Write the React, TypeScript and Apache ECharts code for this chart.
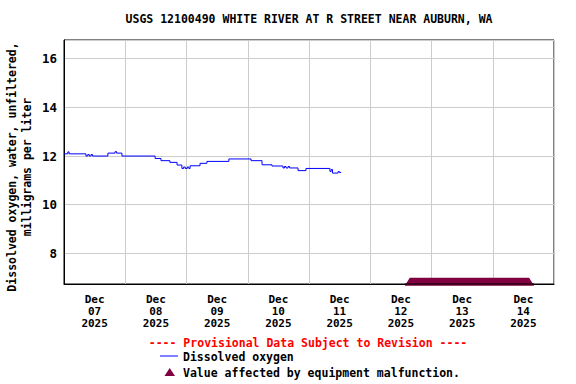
import React, { useEffect, useRef } from 'react';
import * as echarts from 'echarts';

const TITLE = 'USGS 12100490 WHITE RIVER AT R STREET NEAR AUBURN, WA';
const Y_NAME = 'Dissolved oxygen, water, unfiltered,\nmilligrams per liter';
const MONTH = 'Dec';
const YEAR = '2025';
const DAY_LABELS = ['07', '08', '09', '10', '11', '12', '13', '14'];
const X_MIN_H = 0;
const X_MAX_H = 192;
const Y_MIN = 6.74;
const Y_MAX = 16.77;
const PROVISIONAL = '---- Provisional Data Subject to Revision ----';
const LEGEND_LINE = 'Dissolved oxygen';
const LEGEND_MARK = 'Value affected by equipment malfunction.';

// hours since Dec 07 2025 00:00
const DO_HOURS = [
  0, 1.5, 2.0, 8.6, 9.3, 9.9, 10.6, 11.2, 17.2, 20.0, 20.6, 22.7, 35.7, 38.0,
  41.5, 44.3, 46.2, 46.9, 47.5, 48.3, 48.9, 49.4, 53.3, 56.0, 64.6, 73.3, 77.6,
  81.5, 85.8, 86.4, 87.0, 87.8, 88.4, 91.7, 94.8, 104.2, 104.7, 105.2, 107.4,
  108.0, 108.6,
];
const DO_VALUES = [
  12.09, 12.17, 12.09, 12.0, 12.06, 12.0, 12.06, 12.0, 12.12, 12.18, 12.12, 12.0,
  11.9, 11.81, 11.74, 11.63, 11.49, 11.55, 11.49, 11.55, 11.49, 11.6, 11.7,
  11.78, 11.88, 11.81, 11.64, 11.59, 11.51, 11.57, 11.51, 11.57, 11.51, 11.4,
  11.49, 11.37, 11.45, 11.3, 11.36, 11.32, 11.32,
];
// malfunction period [start hour, end hour]
const MALFUNCTION_START = [135.5];
const MALFUNCTION_END = [182.25];

const FONT = 'DejaVu Sans Mono';
const MAROON = '#800040';

export default function App() {
  const ref = useRef<HTMLDivElement>(null);
  useEffect(() => {
    if (!ref.current) return;
    const chart = echarts.init(ref.current, undefined, { renderer: 'svg' });
    const lineData = DO_HOURS.map((h, i) => [h, DO_VALUES[i]]);
    const malData = MALFUNCTION_START.map((s, i) => [s, MALFUNCTION_END[i], Y_MIN]);
    const txt = { fontFamily: FONT, fontWeight: 'bold' as const, fontSize: 11.5 };
    chart.setOption({
      animation: false,
      backgroundColor: '#ffffff',
      grid: {
        left: 64, right: 22, top: 40, bottom: 100, containLabel: false, outerBoundsMode: 'none',
        show: true, borderColor: '#000', borderWidth: 1, backgroundColor: 'transparent',
      },
      xAxis: [
        {
          type: 'value', min: X_MIN_H, max: X_MAX_H, interval: 24, position: 'bottom',
          axisLine: { show: true, lineStyle: { color: '#000' } },
          axisTick: { show: false },
          axisLabel: { show: false },
          splitLine: { show: true, lineStyle: { color: '#cccccc', width: 1 } },
        },
        {
          type: 'value', min: X_MIN_H, max: X_MAX_H, interval: 12, position: 'bottom',
          axisLine: { show: false }, axisTick: { show: false }, splitLine: { show: false },
          axisLabel: {
            ...txt, fontSize: 11, color: '#000', margin: 9, lineHeight: 12,
            showMinLabel: false, showMaxLabel: false,
            formatter: (v: number) => {
              if (Math.abs((v % 24) - 12) > 1e-6) return '';
              const d = DAY_LABELS[Math.floor(v / 24)];
              return d ? `${MONTH}\n${d}\n${YEAR}` : '';
            },
          },
        },
      ],
      yAxis: {
        type: 'value', min: Y_MIN, max: Y_MAX, splitNumber: 5,
        axisLine: { show: true, lineStyle: { color: '#000' } },
        axisTick: { show: false },
        splitLine: { show: true, lineStyle: { color: '#cccccc', width: 1 } },
        axisLabel: {
          ...txt, fontSize: 12.5, color: '#000', margin: 7,
          showMinLabel: false, showMaxLabel: false,
          formatter: (v: number) => (Math.abs(v - Math.round(v)) < 1e-6 ? String(Math.round(v)) : ''),
        },
      },
      series: [
        {
          type: 'line', xAxisIndex: 0, data: lineData, step: 'end', showSymbol: false,
          lineStyle: { color: '#0000ff', width: 1 }, z: 3,
        },
        {
          type: 'custom', xAxisIndex: 0, data: malData, encode: { x: [0, 1], y: 2 }, z: 4,
          renderItem: (_p: any, api: any) => {
            const s = api.coord([api.value(0), api.value(2)]);
            const e = api.coord([api.value(1), api.value(2)]);
            const b = s[1];
            return {
              type: 'group',
              children: [
                {
                  type: 'polygon',
                  shape: { points: [[s[0] - 5, b + 1.7], [s[0], b - 6.3], [e[0], b - 6.3], [e[0] + 5, b + 1.7]] },
                  style: { fill: MAROON },
                },
                {
                  type: 'line',
                  shape: { x1: s[0] - 5, y1: b, x2: e[0] + 5, y2: b },
                  style: { stroke: '#000', lineWidth: 1 },
                },
              ],
            };
          },
        },
      ],
      graphic: [
        { type: 'text', x: 309, y: 19, style: { text: TITLE, ...txt, fill: '#000', align: 'center', verticalAlign: 'middle' } },
        {
          type: 'text', x: 19, y: 167, rotation: Math.PI / 2,
          style: { text: Y_NAME, ...txt, lineHeight: 15, fill: '#000', align: 'center', verticalAlign: 'middle' },
        },
        { type: 'text', x: 308, y: 343, style: { text: PROVISIONAL, ...txt, fill: '#ff0000', align: 'center', verticalAlign: 'middle' } },
        { type: 'line', shape: { x1: 160, y1: 356, x2: 178, y2: 356 }, style: { stroke: '#0000ff', lineWidth: 1 } },
        { type: 'text', x: 183, y: 357, style: { text: LEGEND_LINE, ...txt, fill: '#000', align: 'left', verticalAlign: 'middle' } },
        { type: 'polygon', shape: { points: [[164.5, 376], [169.7, 368], [175, 376]] }, style: { fill: MAROON } },
        { type: 'text', x: 183, y: 373, style: { text: LEGEND_MARK, ...txt, fill: '#000', align: 'left', verticalAlign: 'middle' } },
      ],
    });
    return () => chart.dispose();
  }, []);
  return <div ref={ref} style={{ position: 'fixed', left: 0, top: 0, width: 576, height: 384 }} />;
}
